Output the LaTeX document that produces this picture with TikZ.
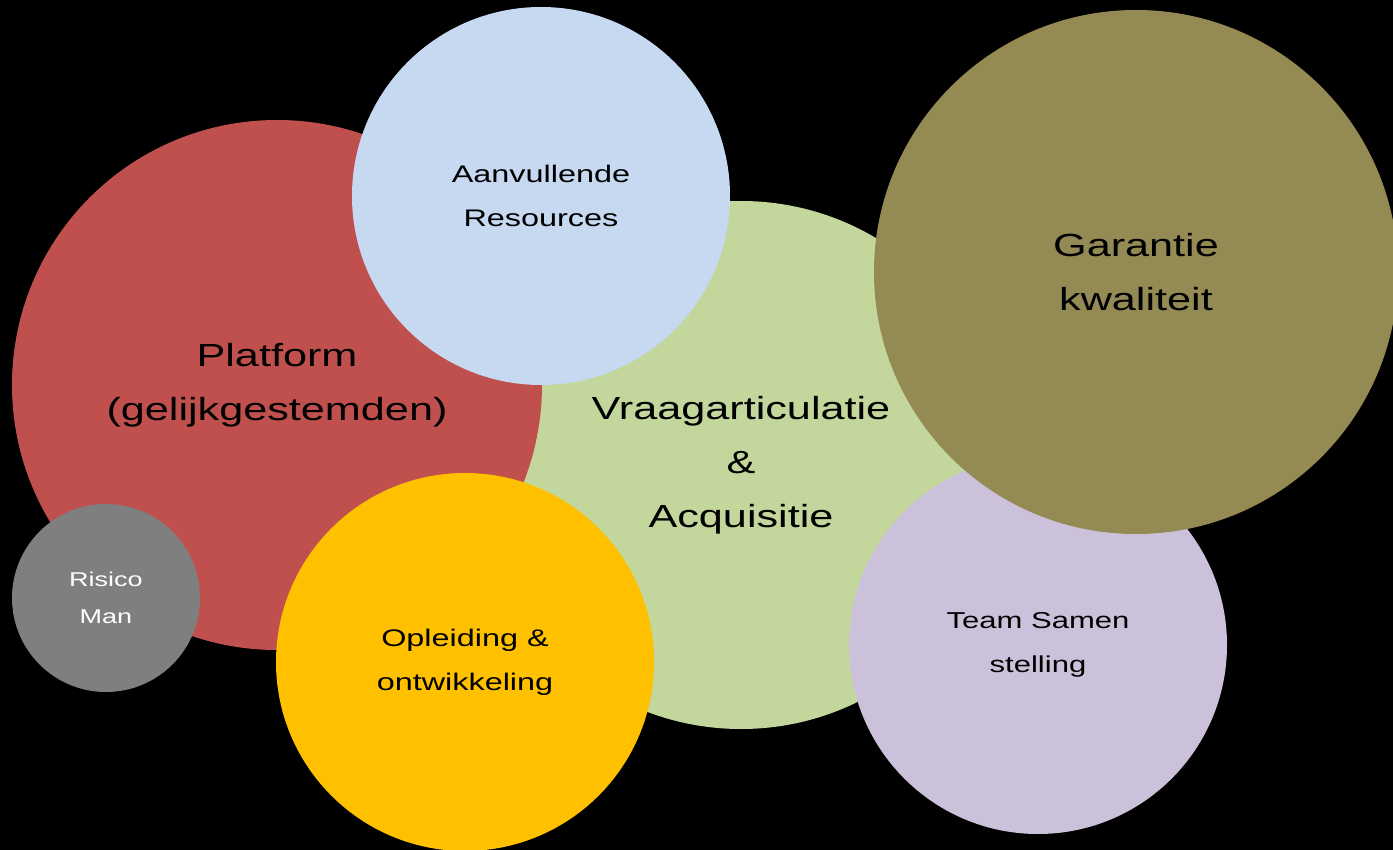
\documentclass[tikz,border=0pt]{standalone}
\usepackage{fontspec}
\setmainfont{Liberation Sans}[FakeStretch=1.35]
\definecolor{cred}{HTML}{C0504D}
\definecolor{cblue}{HTML}{C6D9F1}
\definecolor{cgreen}{HTML}{C3D69B}
\definecolor{colive}{HTML}{948A54}
\definecolor{cpurple}{HTML}{CCC1DA}
\definecolor{corange}{HTML}{FFC000}
\definecolor{cgray}{HTML}{7F7F7F}
\tikzset{
  bubble/.style={circle, inner sep=0pt, align=center, text=black},
  big/.style={font=\fontsize{32}{54}\selectfont},
  mid/.style={font=\fontsize{24}{44}\selectfont},
  small/.style={font=\fontsize{20}{37}\selectfont},
}
\begin{document}
\begin{tikzpicture}[x=1pt,y=-1pt]
\fill[black] (0,0) rectangle (1393,850);
\useasboundingbox (0,0) rectangle (1393,850);
\begin{scope}
\clip (0,0) rectangle (1393,850);
\node[bubble, big, fill=cgreen, minimum size=528pt] (vraag) at (741,465) {Vraagarticulatie\\\&\\Acquisitie};
\node[bubble, big, fill=cred, minimum size=530pt] (platform) at (277,385) {Platform\\(gelijkgestemden)};
\node[bubble, mid, fill=cblue, minimum size=378pt] (aanv) at (541,196) {Aanvullende\\Resources};
\node[bubble, font=\fontsize{23}{44}\selectfont, fill=cpurple, minimum size=378pt] (team) at (1038,645) {Team Samen\\stelling};
\node[bubble, big, fill=colive, minimum size=524pt] (garantie) at (1136,272) {Garantie\\kwaliteit};
\node[bubble, mid, fill=corange, minimum size=378pt] (opl) at (465,662) {Opleiding \&\\ontwikkeling};
\node[bubble, small, fill=cgray, text=white, minimum size=188pt] (risico) at (106,598) {Risico\\Man};
\end{scope}
\end{tikzpicture}
\end{document}
